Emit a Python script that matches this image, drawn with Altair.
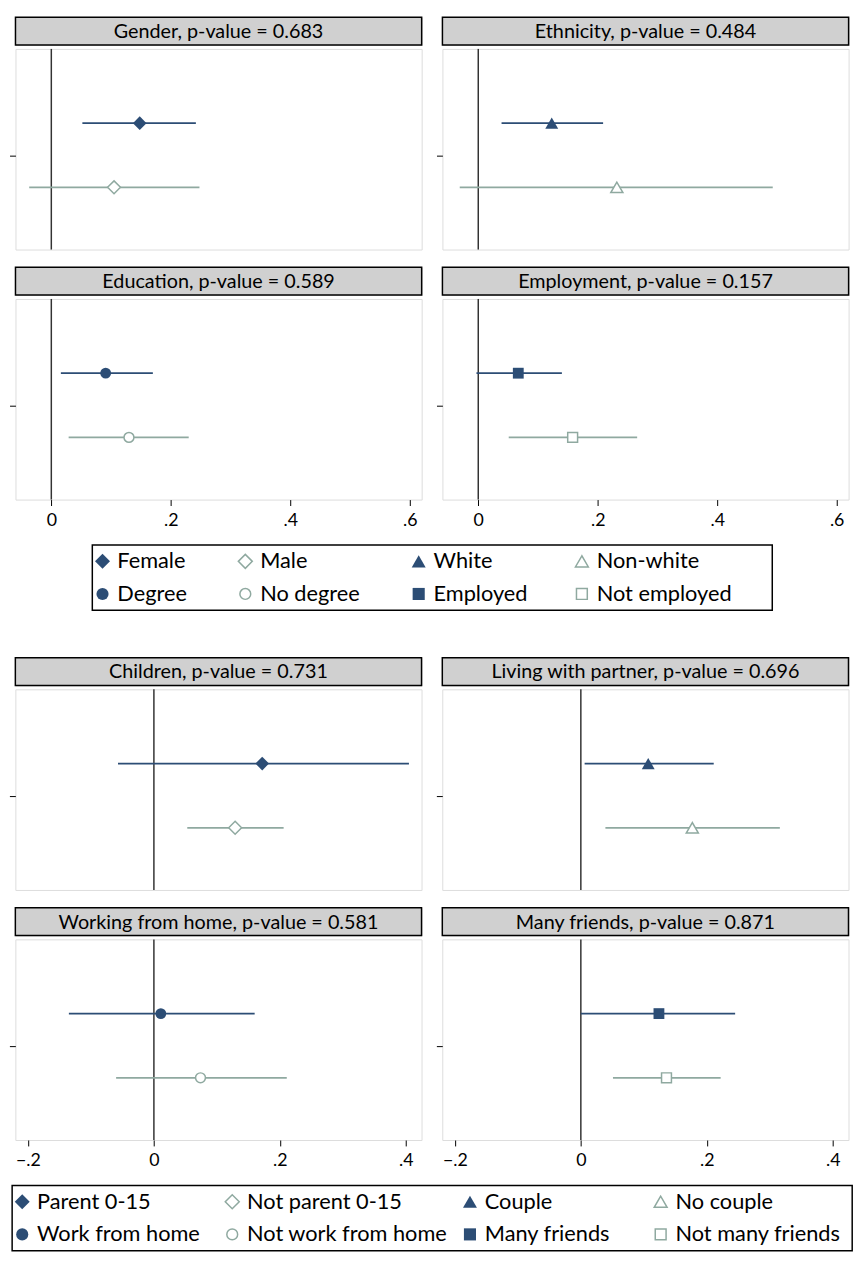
import pandas as pd
import altair as alt

# ---------------- data ----------------
DARK = '#2c4d75'
LIGHT = '#8fa9a0'

top_titles = ['Gender, p-value = 0.683', 'Ethnicity, p-value = 0.484',
              'Education, p-value = 0.589', 'Employment, p-value = 0.157']
top_labels = [['Female', 'Male'], ['White', 'Non-white'],
              ['Degree', 'No degree'], ['Employed', 'Not employed']]
top_est = [[0.148, 0.105], [0.123, 0.232], [0.091, 0.130], [0.067, 0.158]]
top_lo = [[0.052, -0.037], [0.039, -0.031], [0.016, 0.029], [-0.003, 0.051]]
top_hi = [[0.242, 0.248], [0.209, 0.493], [0.170, 0.230], [0.140, 0.266]]

bot_titles = ['Children, p-value =  0.731', 'Living with partner, p-value = 0.696',
              'Working from home, p-value = 0.581', 'Many friends, p-value = 0.871']
bot_labels = [['Parent 0-15', 'Not parent 0-15'], ['Couple', 'No couple'],
              ['Work from home', 'Not work from home'], ['Many friends', 'Not many friends']]
bot_est = [[0.172, 0.129], [0.107, 0.177], [0.011, 0.074], [0.124, 0.136]]
bot_lo = [[-0.057, 0.053], [0.006, 0.039], [-0.135, -0.060], [0.000, 0.051]]
bot_hi = [[0.405, 0.206], [0.211, 0.316], [0.160, 0.211], [0.245, 0.222]]

shapes = ['diamond', 'triangle-up', 'circle', 'square']
sizes = {'diamond': 190, 'triangle-up': 170, 'circle': 120, 'square': 120}
leg_sizes = {'diamond': 230, 'triangle-up': 200, 'circle': 150, 'square': 150}

FONT = 'Lato'
W = 411
PH = 203
HH = 28
label_expr = "datum.value == 0 ? '0' : replace(format(datum.value, '.1f'), '0.', '.')"


def header(text):
    d = pd.DataFrame({'t': [text]})
    box = alt.Chart(d).mark_rect(fill='#d0d0d0', stroke='black', strokeWidth=1.5).encode(
        x=alt.value(0), x2=alt.value(W), y=alt.value(0), y2=alt.value(HH))
    txt = alt.Chart(d).mark_text(font=FONT, fontSize=20, color='black').encode(
        x=alt.value(W / 2), y=alt.value(HH / 2 + 1), text='t:N')
    return (box + txt).properties(width=W, height=HH)


def panel(title, labels, est, lo, hi, shape, domain, ticks, show_x):
    d = pd.DataFrame({'label': labels, 'est': est, 'lo': lo, 'hi': hi,
                      'pos': [0.63, 0.31], 'color': [DARK, LIGHT],
                      'filled': [True, False]})
    xs = alt.Scale(domain=domain, nice=False, zero=False)
    ys = alt.Scale(domain=[0, 1])
    if show_x:
        xax = alt.Axis(values=ticks, labelExpr=label_expr, grid=False, domain=False,
                       tickColor='black', labelFont=FONT, labelFontSize=18,
                       labelColor='black', tickSize=6, labelPadding=6, title=None)
    else:
        xax = None
    yax = alt.Axis(values=[0.47], labels=False, grid=False, domain=False,
                   tickColor='black', tickSize=6, title=None)
    zero = alt.Chart(pd.DataFrame({'z': [0]})).mark_rule(color='#333', strokeWidth=1.5).encode(
        x=alt.X('z:Q', scale=xs, axis=xax))
    ci = alt.Chart(d).mark_rule(strokeWidth=1.8).encode(
        x=alt.X('lo:Q', scale=xs, axis=xax), x2='hi:Q',
        y=alt.Y('pos:Q', scale=ys, axis=yax),
        color=alt.Color('color:N', scale=None))
    pts_f = alt.Chart(d[d.filled]).mark_point(shape=shape, filled=True, size=sizes[shape], opacity=1).encode(
        x=alt.X('est:Q', scale=xs), y=alt.Y('pos:Q', scale=ys),
        color=alt.Color('color:N', scale=None))
    pts_h = alt.Chart(d[~d.filled]).mark_point(shape=shape, filled=False, size=sizes[shape] - 20,
                                               fill='white', strokeWidth=1.5, opacity=1).encode(
        x=alt.X('est:Q', scale=xs), y=alt.Y('pos:Q', scale=ys),
        color=alt.Color('color:N', scale=None))
    plot = (zero + ci + pts_f + pts_h).properties(width=W, height=PH)
    return alt.vconcat(header(title), plot, spacing=0)


def legend(labels, xpos, width):
    rows = []
    for i, (pair, shp) in enumerate(zip(labels, shapes)):
        for j, lab in enumerate(pair):
            col = (i % 2) * 2 + j
            row = i // 2
            rows.append({'label': lab, 'shape': shp, 'x': xpos[col], 'row': row,
                         'color': [DARK, LIGHT][j], 'filled': j == 0,
                         'sz': leg_sizes[shp] - (0 if j == 0 else 30)})
    d = pd.DataFrame(rows)
    xs = alt.Scale(domain=[0, 1])
    ys = alt.Scale(domain=[-0.5, 1.5], reverse=True)
    base = alt.Chart(d).encode(x=alt.X('x:Q', scale=xs, axis=None),
                               y=alt.Y('row:Q', scale=ys, axis=None))
    f = base.transform_filter('datum.filled').mark_point(filled=True, opacity=1).encode(
        shape=alt.Shape('shape:N', scale=None), color=alt.Color('color:N', scale=None),
        size=alt.Size('sz:Q', scale=None))
    h = base.transform_filter('!datum.filled').mark_point(filled=False, strokeWidth=1.5, opacity=1).encode(
        shape=alt.Shape('shape:N', scale=None), color=alt.Color('color:N', scale=None),
        size=alt.Size('sz:Q', scale=None))
    t = base.mark_text(align='left', dx=15, font=FONT, fontSize=22, color='black').encode(text='label:N')
    return (f + h + t).properties(width=width, height=66, view=alt.ViewConfig(stroke='black', strokeWidth=1.5))


def group(titles, labels, est, lo, hi, domain, ticks, xpos, lw):
    ps = [panel(titles[k], labels[k], est[k], lo[k], hi[k], shapes[k], domain, ticks, k >= 2)
          for k in range(4)]
    r1 = alt.hconcat(ps[0], ps[1], spacing=12)
    r2 = alt.hconcat(ps[2], ps[3], spacing=12)
    return alt.vconcat(r1, r2, legend(labels, xpos, lw), spacing=14, center=True)


g1 = group(top_titles, top_labels, top_est, top_lo, top_hi, [-0.06, 0.62],
           [0, 0.2, 0.4, 0.6], [0.015, 0.225, 0.48, 0.72], 688)
g2 = group(bot_titles, bot_labels, bot_est, bot_lo, bot_hi, [-0.22, 0.425],
           [-0.2, 0, 0.2, 0.4], [0.012, 0.262, 0.545, 0.772], 850)

chart = alt.vconcat(g1, g2, spacing=45, center=True).configure_view(
    stroke='black', strokeWidth=1.5
).configure(background='white', padding=0)

chart.save("out.html", embed_options={"renderer": "svg", "actions": False})
